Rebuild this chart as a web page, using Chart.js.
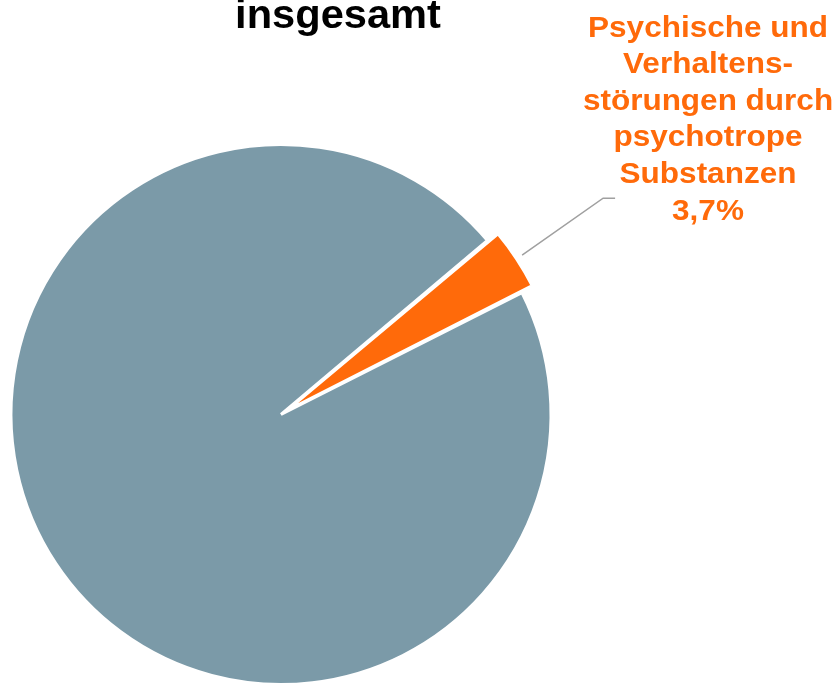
<!DOCTYPE html>
<html>
<head>
<meta charset="utf-8">
<script src="https://cdn.jsdelivr.net/npm/chart.js@4/dist/chart.umd.min.js"></script>
<style>
  html, body { margin: 0; padding: 0; overflow: hidden; background: #fff; }
  #wrap { width: 838px; height: 683px; overflow: hidden; position: relative; }
  #pie { position: absolute; left: -20px; top: 0; }
</style>
</head>
<body>
<div id="wrap"><canvas id="pie" width="900" height="720"></canvas></div>
<script>
const title = 'insgesamt'
const labels = ['Andere Diagnosen', 'Psychische und Verhaltensstörungen durch psychotrope Substanzen']
const values = [96.3, 3.7]
const colors = ['#7b9aa8', '#ff6a0a']
const labelLines = ['Psychische und', 'Verhaltens-', 'störungen durch', 'psychotrope', 'Substanzen', '3,7%']

const shift = 20 // canvas sits 20px left of the page

const drawText = (ctx, text, x, y, size, color, stretch) => {
    ctx.save()
    ctx.font = 'bold ' + size + 'px "Liberation Sans", Arial, sans-serif'
    ctx.fillStyle = color
    ctx.textAlign = 'center'
    ctx.textBaseline = 'alphabetic'
    ctx.translate(x + shift, y)
    ctx.scale(stretch, 1)
    ctx.fillText(text, 0, 0)
    ctx.restore()
}

const labelPlugin = {
    id: 'labelPlugin',
    afterDraw(chart) {
        const ctx = chart.ctx
        drawText(ctx, title, 338, 28, 40, '#000', 1.04)

        // leader line from the exploded slice to its label
        const arc = chart.getDatasetMeta(0).data[1]
        const mid = (arc.startAngle + arc.endAngle) / 2
        const r = arc.outerRadius + arc.options.offset - 9
        const sx = arc.x + Math.cos(mid) * r
        const sy = arc.y + Math.sin(mid) * r
        ctx.save()
        ctx.strokeStyle = '#a0a0a0'
        ctx.lineWidth = 1.5
        ctx.beginPath()
        ctx.moveTo(sx, sy)
        ctx.lineTo(sx + 81, sy - 57)
        ctx.lineTo(sx + 93, sy - 57)
        ctx.stroke()
        ctx.restore()

        labelLines.forEach((line, i) => {
            drawText(ctx, line, 708, 36.5 + i * 36.6, 30, colors[1], 1.05)
        })
    }
}

new Chart(document.getElementById('pie'), {
    type: 'pie',
    data: {
        labels,
        datasets: [{
            data: values,
            backgroundColor: colors,
            borderColor: '#ffffff',
            borderWidth: 3,
            offset: [0, 28]
        }]
    },
    options: {
        responsive: false,
        animation: false,
        rotation: 63.2,
        radius: 270,
        layout: { padding: { left: 0, right: 298, top: 109, bottom: 0 } },
        plugins: {
            legend: { display: false },
            tooltip: { enabled: false }
        }
    },
    plugins: [labelPlugin]
})
</script>
</body>
</html>
